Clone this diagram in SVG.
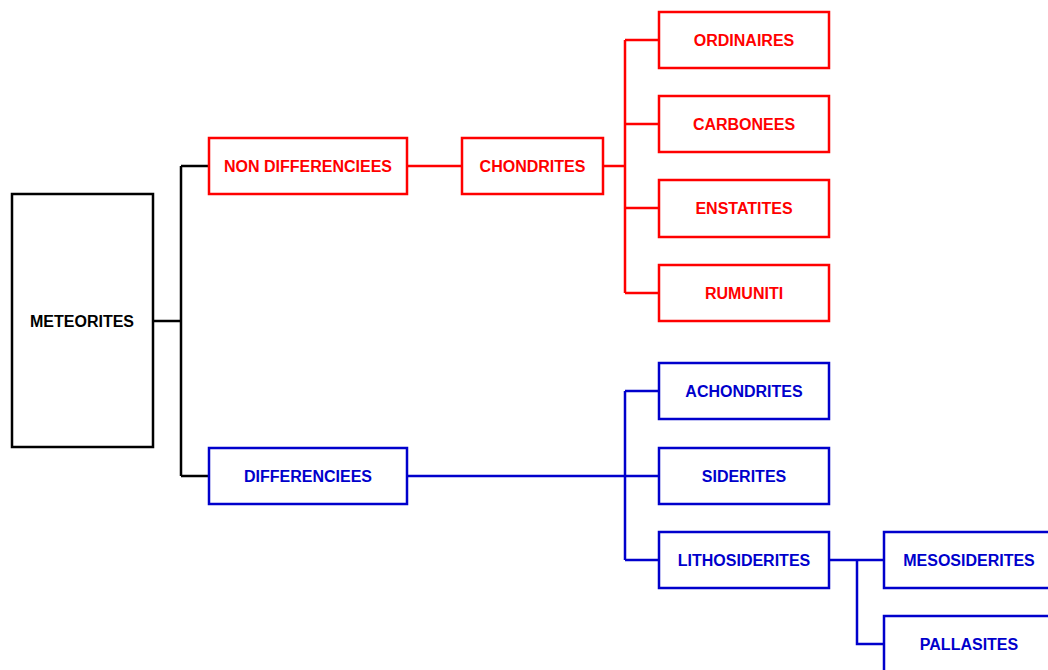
<svg xmlns="http://www.w3.org/2000/svg" width="1048" height="670" viewBox="0 0 1048 670">
<style>
rect{fill:#fff;stroke-width:2.5}
text{font-family:"Liberation Sans",Arial,sans-serif;font-weight:bold;font-size:16px;text-anchor:middle}
.k rect{stroke:#000}.k text{fill:#000}
.r rect{stroke:#ff0000}.r text{fill:#ff0000}
.b rect{stroke:#0000cc}.b text{fill:#0000cc}
#connectors path{fill:none;stroke-width:2.5}
</style>
<rect x="0" y="0" width="1048" height="670" style="fill:#fff;stroke:none"/>
<g id="connectors">
<path d="M153,321H181M181,166V476M181,166H209M181,476H209" stroke="#000"/>
<path d="M407,166H462M603,166H625M625,40V293M625,40H659M625,124H659M625,208H659M625,293H659" stroke="#ff0000"/>
<path d="M407,476H659M625,391V560M625,391H659M625,560H659M829,560H884M857,560V644H884" stroke="#0000cc"/>
</g>
<g id="meteorites" class="k"><rect x="12" y="194" width="141" height="253"/><text x="82" y="327">METEORITES</text></g>
<g id="non-differenciees" class="r"><rect x="209" y="138" width="198" height="56"/><text x="308" y="171.5">NON DIFFERENCIEES</text></g>
<g id="chondrites" class="r"><rect x="462" y="138" width="141" height="56"/><text x="532.5" y="171.5">CHONDRITES</text></g>
<g id="ordinaires" class="r"><rect x="659" y="12" width="170" height="56"/><text x="744" y="45.5">ORDINAIRES</text></g>
<g id="carbonees" class="r"><rect x="659" y="96" width="170" height="56"/><text x="744" y="129.5">CARBONEES</text></g>
<g id="enstatites" class="r"><rect x="659" y="180" width="170" height="57"/><text x="744" y="213.5">ENSTATITES</text></g>
<g id="rumuniti" class="r"><rect x="659" y="265" width="170" height="56"/><text x="744" y="298.5">RUMUNITI</text></g>
<g id="differenciees" class="b"><rect x="209" y="448" width="198" height="56"/><text x="308" y="481.5">DIFFERENCIEES</text></g>
<g id="achondrites" class="b"><rect x="659" y="363" width="170" height="56"/><text x="744" y="396.5">ACHONDRITES</text></g>
<g id="siderites" class="b"><rect x="659" y="448" width="170" height="56"/><text x="744" y="481.5">SIDERITES</text></g>
<g id="lithosiderites" class="b"><rect x="659" y="532" width="170" height="56"/><text x="744" y="565.5">LITHOSIDERITES</text></g>
<g id="mesosiderites" class="b"><rect x="884" y="532" width="170" height="56"/><text x="969" y="565.5">MESOSIDERITES</text></g>
<g id="pallasites" class="b"><rect x="884" y="616" width="170" height="56"/><text x="969" y="649.5">PALLASITES</text></g>
</svg>
